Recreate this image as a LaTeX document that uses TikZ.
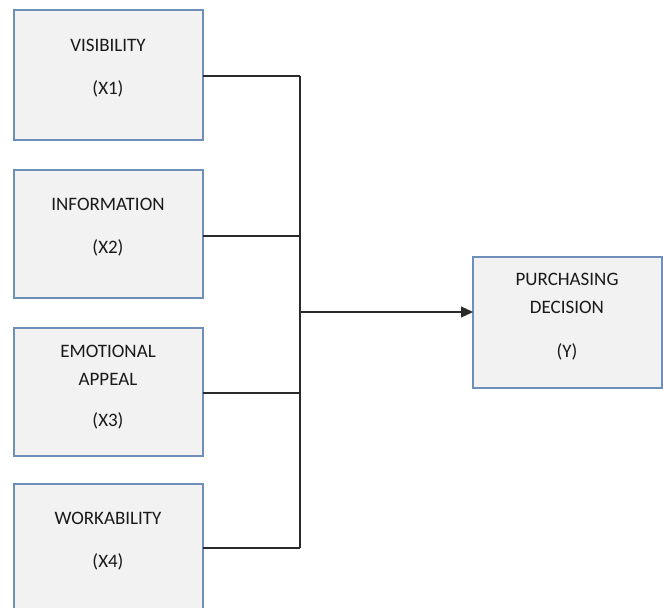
\documentclass[tikz,border=0pt]{standalone}
\usepackage{fontspec}
\setmainfont{Carlito}
\usetikzlibrary{arrows.meta}
\definecolor{boxfill}{HTML}{F2F2F2}
\definecolor{boxline}{HTML}{6E8FB8}
\definecolor{conn}{HTML}{2A2A2A}
\begin{document}
\begin{tikzpicture}[x=1pt,y=-1pt,
  varbox/.style={draw=boxline,line width=1.8pt,fill=boxfill,minimum width=189pt,inner sep=0pt,outer sep=0pt},
  lbl/.style={font=\fontsize{19}{21}\selectfont,text=black!90,inner sep=0pt,anchor=center},
  conline/.style={draw=conn,line width=1.1pt}]
\useasboundingbox (0,0) rectangle (663,607);
\clip (0,0) rectangle (663,607);
\fill[white] (0,0) rectangle (663,607);
% boxes
\node[varbox,minimum height=130pt] (b1) at (108.5,75) {};
\node[varbox,minimum height=128pt] (b2) at (108.5,234) {};
\node[varbox,minimum height=128pt] (b3) at (108.5,392) {};
\node[varbox,minimum height=128pt] (b4) at (108.5,548) {};
\node[varbox,minimum height=131pt] (y) at (567.5,322.5) {};
% labels
\node[lbl] (t1a) at (108,45) {VISIBILITY};
\node[lbl] (t1b) at (108,89) {(X1)};
\node[lbl] (t2a) at (108,204) {INFORMATION};
\node[lbl] (t2b) at (108,248) {(X2)};
\node[lbl] (t3a) at (108,351) {EMOTIONAL};
\node[lbl] (t3b) at (108,379) {APPEAL};
\node[lbl] (t3c) at (108,421) {(X3)};
\node[lbl] (t4a) at (108,518) {WORKABILITY};
\node[lbl] (t4b) at (108,562) {(X4)};
\node[lbl] (tya) at (567,279) {PURCHASING};
\node[lbl] (tyb) at (567,307) {DECISION};
\node[lbl] (tyc) at (567,352) {(Y)};
% junctions
\coordinate (j1) at (300,76);
\coordinate (j2) at (300,236);
\coordinate (j3) at (300,393);
\coordinate (j4) at (300,548);
\coordinate (jm) at (300,312);
\draw[conline] (b1.east |- j1) -- (j1);
\draw[conline] (b2.east |- j2) -- (j2);
\draw[conline] (b3.east |- j3) -- (j3);
\draw[conline] (b4.east |- j4) -- (j4);
\draw[conline] (j1) -- (j4);
\draw[conline,-{Triangle[length=12pt,width=11pt]}] (jm) -- (y.west |- jm);
\end{tikzpicture}
\end{document}
